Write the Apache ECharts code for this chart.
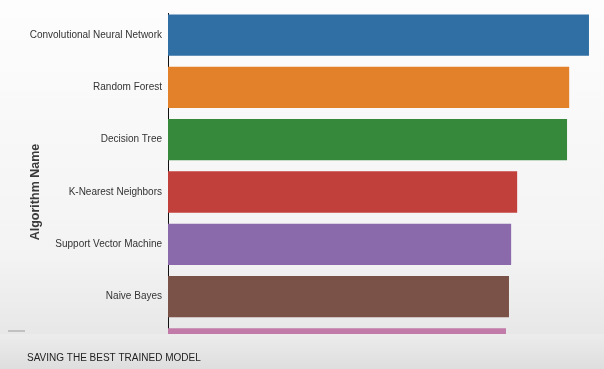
<!DOCTYPE html>
<html>
<head>
<meta charset="utf-8">
<script src="https://cdn.jsdelivr.net/npm/echarts@6/dist/echarts.min.js"></script>
<style>
  html, body { margin: 0; padding: 0; }
  #chart { width: 604px; height: 369px; }
</style>
</head>
<body>
<div id="chart"></div>
<script>
const algorithms = [
  'Convolutional Neural Network',
  'Random Forest',
  'Decision Tree',
  'K-Nearest Neighbors',
  'Support Vector Machine',
  'Naive Bayes',
  'Logistic Regression',
]
const accuracy = [0.979, 0.933, 0.928, 0.812, 0.798, 0.793, 0.786]
const barColors = ['#2f6fa3', '#e3812b', '#36893a', '#c2403c', '#8a6aab', '#7a5248', '#c27aa8']

const font = "'Liberation Sans Narrow', 'Liberation Sans', sans-serif"

const chart = echarts.init(document.getElementById('chart'))
chart.setOption({
  animation: false,
  backgroundColor: new echarts.graphic.LinearGradient(0, 0, 0, 1, [
    { offset: 0, color: '#fdfdfd' },
    { offset: 0.7, color: '#f3f3f3' },
    { offset: 1, color: '#e2e2e2' },
  ]),
  color: barColors,
  title: {
    text: 'SAVING THE BEST TRAINED MODEL',
    left: 22,
    top: 348,
    z: 100,
    textStyle: { fontFamily: font, fontSize: 10, fontWeight: 'normal', color: '#222' },
  },
  grid: { left: 168, top: 9, width: 430, height: 366, outerBoundsMode: 'none' },
  xAxis: { type: 'value', min: 0, max: 1, show: false },
  yAxis: {
    type: 'category',
    inverse: true,
    data: algorithms,
    name: 'Algorithm Name',
    nameLocation: 'middle',
    nameGap: 126,
    nameMoveOverlap: false,
    nameTextStyle: { fontFamily: font, fontSize: 12.5, fontWeight: 'bold', color: '#3a3a3a' },
    axisLine: { lineStyle: { color: '#111', width: 1 } },
    axisTick: { alignWithLabel: true, length: 4, lineStyle: { color: '#444' } },
    axisLabel: { margin: 6, fontFamily: font, fontSize: 10, color: '#333' },
  },
  series: [
    {
      type: 'bar',
      data: accuracy,
      colorBy: 'data',
      barCategoryGap: '21%',
    },
  ],
  graphic: [
    // the frame is cropped: hide the strip above the plot and below y=334
    {
      type: 'rect',
      z: 50,
      shape: { x: 160, y: 0, width: 20, height: 13 },
      style: { fill: '#fdfdfd' },
    },
    {
      type: 'rect',
      z: 50,
      shape: { x: 0, y: 334, width: 604, height: 35 },
      style: {
        fill: new echarts.graphic.LinearGradient(0, 0, 0, 1, [
          { offset: 0, color: '#ececec' },
          { offset: 1, color: '#dedede' },
        ]),
      },
    },
    {
      type: 'line',
      z: 60,
      shape: { x1: 8, y1: 331, x2: 25, y2: 331 },
      style: { stroke: '#b5b5b5', lineWidth: 1.5 },
    },
  ],
})
</script>
</body>
</html>
